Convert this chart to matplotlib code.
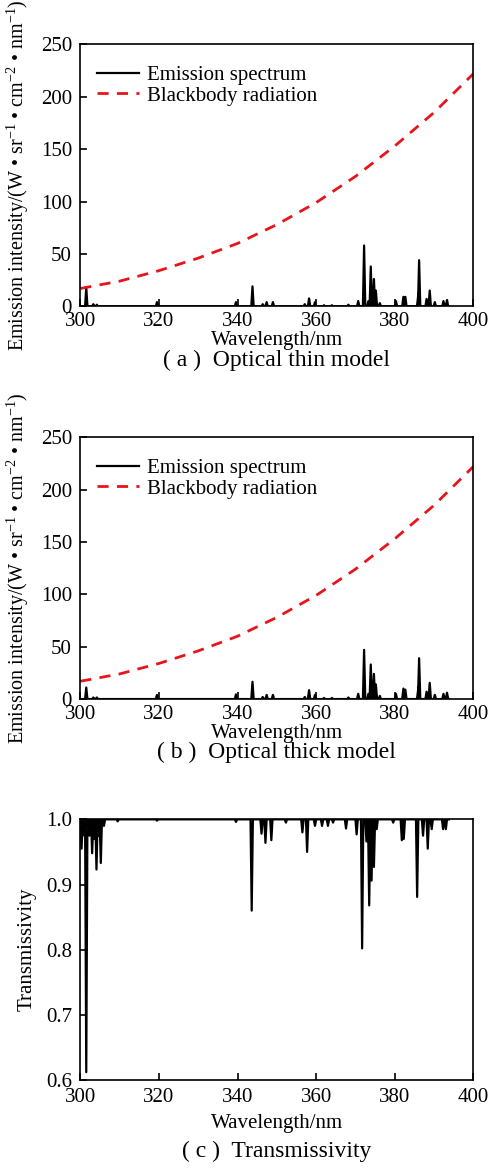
import matplotlib
matplotlib.use("Agg")
import matplotlib.pyplot as plt

plt.rcParams['font.family'] = ['Liberation Serif', 'DejaVu Serif']
plt.rcParams['mathtext.fontset'] = 'custom'
plt.rcParams['mathtext.rm'] = 'Liberation Serif'
plt.rcParams['mathtext.it'] = 'Liberation Serif:italic'

# Blackbody curve read every 10 nm
bb_wl = [300, 310, 320, 330, 340, 350, 360, 370, 380, 390, 400]
bb_val = [17, 24, 34, 46, 60, 78, 99, 124, 153, 185, 222]

# Emission lines: centre wavelength (nm), thin-model height, thick-model height
em_wl = [301.5, 303.3, 304.2, 319.5, 339.6, 343.8, 346.4, 347.4, 349.0,
         357.1, 358.2, 359.7, 362.0, 364.0, 368.2, 370.7, 372.2, 373.3,
         373.9, 374.7, 375.2, 376.2, 380.3, 382.2, 382.7, 386.0, 386.2,
         388.1, 388.9, 390.2, 392.4, 393.3]
em_thin = [18, 2, 1.5, 4, 4, 19, 2, 4, 4,
           2, 7.5, 4, 1, 1, 1.5, 5, 58, 5,
           38, 26, 15, 3, 5, 9, 9, 12, 44,
           7, 15, 4, 5, 6]
em_thick = [11, 1.5, 1.5, 4, 4.5, 16.5, 2, 4, 4,
            2, 8.5, 4, 1, 1, 1.5, 5, 47, 5,
            33, 24, 14, 3, 5, 10, 9, 11, 39,
            7, 15.5, 4, 5, 6]

# Transmissivity dips: centre wavelength (nm), minimum value
tr_wl = [300.3, 301.0, 301.5, 302.3, 303.0, 303.6, 304.1, 304.6, 305.2,
         306.0, 309.5, 319.5, 339.6, 343.6, 346.1, 347.1, 348.6, 352.3,
         356.5, 357.7, 359.7, 361.5, 363.0, 364.3, 367.6, 370.3, 371.7,
         372.8, 373.5, 374.1, 374.7, 375.4, 379.6, 381.8, 382.3, 385.7,
         387.2, 388.4, 389.4, 392.3, 393.0]
tr_min = [0.955, 0.975, 0.612, 0.975, 0.948, 0.97, 0.923, 0.975, 0.933,
          0.99, 0.997, 0.998, 0.996, 0.86, 0.978, 0.964, 0.968, 0.995,
          0.98, 0.95, 0.99, 0.99, 0.99, 0.995, 0.986, 0.977, 0.802,
          0.966, 0.868, 0.906, 0.927, 0.985, 0.995, 0.968, 0.97, 0.881,
          0.975, 0.955, 0.985, 0.985, 0.985]

HW = 0.3  # half width of a drawn line at its base, nm


def spikes(centres, tops, base):
    xs, ys = [300.0], [base]
    for c, t in zip(centres, tops):
        xs += [c - HW, c, c + HW]
        ys += [base, t, base]
    xs.append(393.8)
    ys.append(base)
    return xs, ys


fig = plt.figure(figsize=(4.9, 11.69), dpi=100)
fs = 15

ax_a = fig.add_axes([0.164, 0.738, 0.802, 0.224])
ax_b = fig.add_axes([0.164, 0.402, 0.802, 0.224])
ax_c = fig.add_axes([0.164, 0.0761, 0.802, 0.223])

ylab = r'Emission intensity/(W • sr$^{-1}$ • cm$^{-2}$ • nm$^{-1}$)'

for ax in (ax_a, ax_b, ax_c):
    ax.set_xlim(300, 400)
    ax.set_xticks([300, 320, 340, 360, 380, 400])
    ax.tick_params(direction='in', length=5, width=1.2, labelsize=fs)
    ax.tick_params(axis='y', pad=6)
    for sp in ax.spines.values():
        sp.set_linewidth(1.2)

for ax, vals, cap in [(ax_a, em_thin, '( a )  Optical thin model'),
                      (ax_b, em_thick, '( b )  Optical thick model')]:
    xs, ys = spikes(em_wl, vals, 0.0)
    ax.plot(xs, ys, color='black', linewidth=1.6, label='Emission spectrum')
    ax.plot(bb_wl, bb_val, color='#e8141b', linestyle=(0, (4, 3)),
            linewidth=2, label='Blackbody radiation')
    ax.set_ylim(0, 250)
    ax.set_yticks([0, 50, 100, 150, 200, 250])
    ax.tick_params(axis='x', pad=4)
    ax.set_ylabel(ylab, fontsize=14.5, labelpad=7)
    ax.set_xlabel('Wavelength/nm', fontsize=fs, labelpad=0)
    ax.legend(loc='upper left', frameon=False, fontsize=fs, handlelength=2.0,
              borderaxespad=0.3, labelspacing=0.05, handletextpad=0.4,
              bbox_to_anchor=(0.005, 0.975))
    ax.text(0.5, -0.165, cap, transform=ax.transAxes, ha='center', va='top',
            fontsize=17)

xs, ys = spikes(tr_wl, tr_min, 1.0)
ax_c.plot(xs, ys, color='black', linewidth=1.6)
ax_c.set_ylim(0.6, 1.0)
ax_c.set_yticks([0.6, 0.7, 0.8, 0.9, 1.0])
ax_c.tick_params(axis='x', pad=6)
ax_c.set_ylabel('Transmissivity', fontsize=fs, labelpad=7)
ax_c.set_xlabel('Wavelength/nm', fontsize=fs, labelpad=5)
ax_c.text(0.5, -0.235, '( c )  Transmissivity', transform=ax_c.transAxes,
          ha='center', va='top', fontsize=17)

fig.savefig('out.png', dpi=100)
